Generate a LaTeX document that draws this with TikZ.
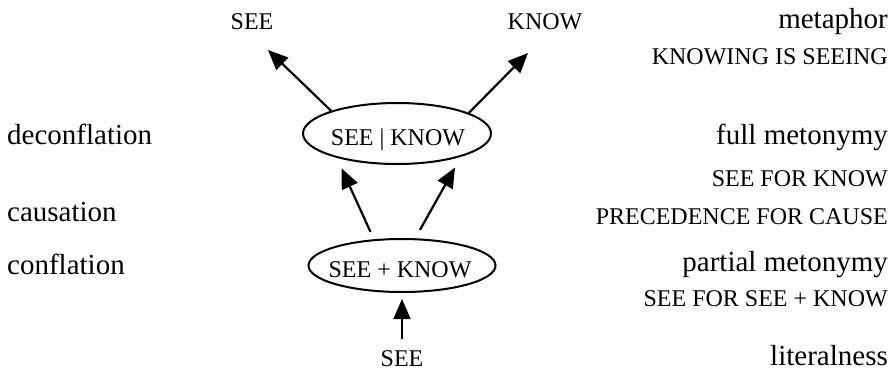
\documentclass[tikz,border=0pt]{standalone}
\usepackage{fontspec}
\setmainfont{Liberation Serif}
\usetikzlibrary{shapes.geometric,arrows.meta}

\tikzset{
  caps/.style={inner sep=0pt, font=\fontsize{24}{28}\selectfont},
  words/.style={inner sep=0pt, font=\fontsize{29}{34}\selectfont},
  oval/.style={ellipse, draw, line width=2pt, inner sep=0pt},
  link/.style={line width=2.2pt, -{Triangle[length=20pt,width=17pt]}},
}

\begin{document}
\begin{tikzpicture}[x=1pt,y=-1pt]
\useasboundingbox (0,0) rectangle (893,370);

% the two ellipses and the texts inside them
\node[oval, minimum width=188pt, minimum height=61pt] (e1) at (397,133.5) {};
\node[caps, anchor=base] (t1) at (398,145) {SEE | KNOW};
\node[oval, minimum width=187pt, minimum height=53pt] (e2) at (402,265.5) {};
\node[caps, anchor=base] (t2) at (400,277) {SEE + KNOW};

% concepts at the ends of the arrows
\node[caps, anchor=base] (seeT) at (252,29) {SEE};
\node[caps, anchor=base] (knowT) at (545,29) {KNOW};
\node[caps, anchor=base] (seeB) at (402,366) {SEE};

% left column
\node[words, anchor=base west] (deconf) at (7,144) {deconflation};
\node[words, anchor=base west] (caus) at (7,221) {causation};
\node[words, anchor=base west] (conf) at (7,274) {conflation};

% right column
\node[words, anchor=base east] (meta) at (888,28) {metaphor};
\node[caps, anchor=base east] (kis) at (888,64) {KNOWING IS SEEING};
\node[words, anchor=base east] (fullm) at (888,144) {full metonymy};
\node[caps, anchor=base east] (sfk) at (888,186) {SEE FOR KNOW};
\node[caps, anchor=base east] (pfc) at (888,224) {PRECEDENCE FOR CAUSE};
\node[words, anchor=base east] (partm) at (888,271) {partial metonymy};
\node[caps, anchor=base east] (sfsk) at (888,306) {SEE FOR SEE + KNOW};
\node[words, anchor=base east] (lit) at (888,365) {literalness};

% free ends of the upper arrows
\coordinate (tipL) at (268,50);
\coordinate (tipR) at (528,53);

% arrows
\draw[link] (e1.161) -- (tipL);
\draw[link] (e1.16) -- (tipR);
\draw[link, shorten <=8pt, shorten >=11.5pt] (e2.137) -- (e1.202);
\draw[link, shorten <=9.5pt, shorten >=12.3pt] (e2.64) -- (e1.340);
\draw[link, line width=2pt, shorten <=11pt, shorten >=6pt] (seeB.north) -- (e2.south);
\end{tikzpicture}
\end{document}
